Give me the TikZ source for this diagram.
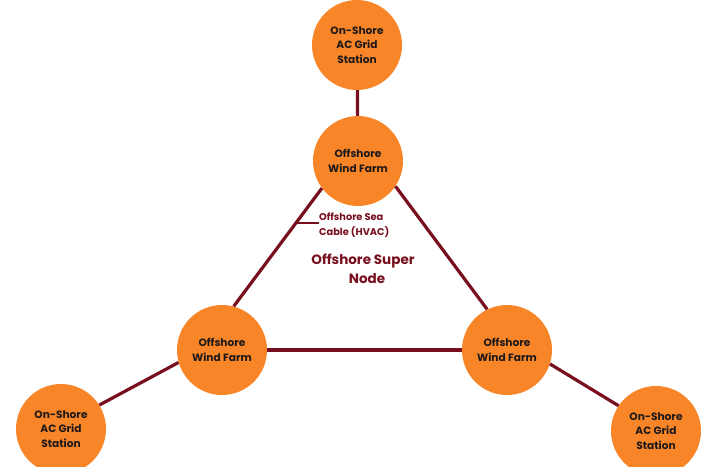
\documentclass[tikz,border=0pt]{standalone}
\usepackage{fontspec}
\setmainfont{Poppins}
\definecolor{orangefill}{RGB}{248,134,40}
\definecolor{maroon}{RGB}{120,15,30}
\definecolor{nodetext}{RGB}{30,25,25}
\begin{document}
\begin{tikzpicture}[x=1pt,y=-1pt,
  site/.style={circle,fill=orangefill,draw=none,minimum size=90pt,inner sep=0pt,
    align=center,font=\fontsize{10.6}{14.8}\selectfont\bfseries,text=nodetext},
  cable/.style={draw=maroon,line width=3.2pt},
  lbl/.style={text=maroon,inner sep=0pt}]
\useasboundingbox (0,0) rectangle (709,466);
\node[site] (ts) at (357,45) {On-Shore\\AC Grid\\Station};
\node[site] (tw) at (358,161) {Offshore\\Wind Farm};
\node[site] (lw) at (222,350) {Offshore\\Wind Farm};
\node[site] (rw) at (507,350) {Offshore\\Wind Farm};
\node[site] (ls) at (61,429) {On-Shore\\AC Grid\\Station};
\node[site] (rs) at (656,431) {On-Shore\\AC Grid\\Station};
\path[cable] (ts) -- (tw);
\path[cable] (tw.217) -- (lw.75) coordinate[pos=0.28] (tick);
\path[cable] (tw.-34) -- (rw.116);
\path[cable] (lw.east) -- (rw.west);
\path[cable] (lw.196) -- (ls.32);
\path[cable] (rw.-18) -- (rs.146);
\coordinate (tickend) at (319,223);
\path[cable,line width=2.6pt] (tick |- tickend) -- (tickend);
\node[lbl,anchor=west,align=left,font=\fontsize{9.8}{15}\selectfont\bfseries] (cablelbl) at (319,225)
  {Offshore Sea\\Cable (HVAC)};
\node[lbl,align=center,font=\fontsize{13.5}{18.5}\selectfont\bfseries] (supernode) at (363,269)
  {Offshore Super\\\hspace*{8pt}Node};
\end{tikzpicture}
\end{document}
